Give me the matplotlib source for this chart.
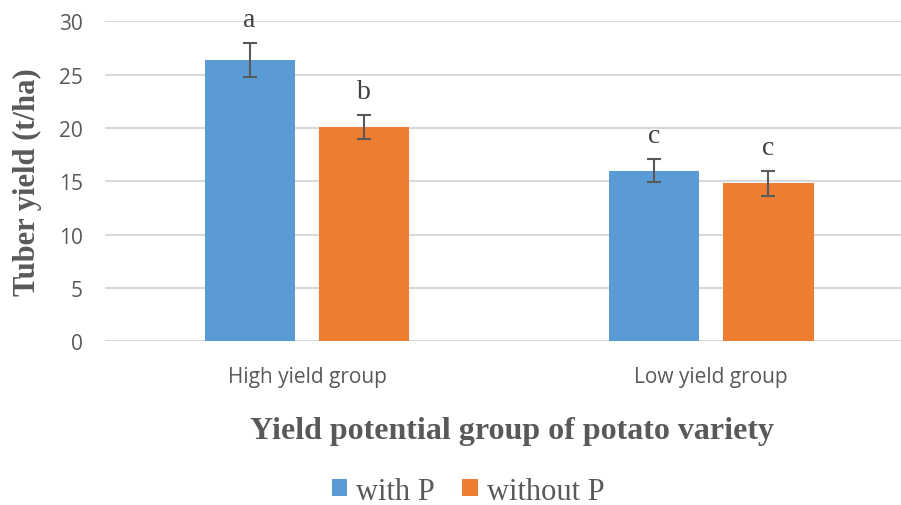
import matplotlib
matplotlib.use("Agg")
import matplotlib.pyplot as plt
import numpy as np

groups = ["High yield group", "Low yield group"]
with_p = [26.4, 16.0]
with_p_err = [1.6, 1.1]
without_p = [20.1, 14.8]
without_p_err = [1.1, 1.2]
letters_with = ["a", "c"]
letters_without = ["b", "c"]

blue = "#5B9BD5"
orange = "#ED7D31"
grey = "#595959"

fig = plt.figure(figsize=(9.01, 5.06), dpi=100)
ax = fig.add_axes([105 / 901, 1 - 342.3 / 506, 1 - 105 / 901, 320 / 506])

x = np.arange(len(groups))
w = 0.223
off = 0.142
b1 = ax.bar(x - off, with_p, w, color=blue, label="with P", zorder=2)
b2 = ax.bar(x + off, without_p, w, color=orange, label="without P", zorder=2)
ax.errorbar(x - off, with_p, yerr=with_p_err, fmt="none", ecolor=grey, elinewidth=1.5, capsize=5, capthick=1.5, zorder=3)
ax.errorbar(x + off, without_p, yerr=without_p_err, fmt="none", ecolor=grey, elinewidth=1.5, capsize=5, capthick=1.5, zorder=3)

for xi, v, e, t in zip(x - off, with_p, with_p_err, letters_with):
    ax.annotate(t, (xi, v + e), xytext=(0, 8), textcoords="offset points", ha="center", va="bottom",
                fontsize=20, family="Liberation Serif", color="#404040")
for xi, v, e, t in zip(x + off, without_p, without_p_err, letters_without):
    ax.annotate(t, (xi, v + e), xytext=(0, 8), textcoords="offset points", ha="center", va="bottom",
                fontsize=20, family="Liberation Serif", color="#404040")

ax.set_ylim(0, 30)
ax.set_xlim(-0.5, 1.47)
ax.set_yticks(range(0, 31, 5))
ax.set_xticks(x)
ax.set_xticklabels(groups)
ax.yaxis.grid(True, color="#D9D9D9", linewidth=1.5, zorder=0)
ax.set_axisbelow(True)
for s in ax.spines.values():
    s.set_visible(False)
ax.tick_params(length=0, colors=grey, labelsize=15)
ax.tick_params(axis="y", pad=16)
ax.tick_params(axis="x", pad=18)
for lbl in ax.get_xticklabels() + ax.get_yticklabels():
    lbl.set_family("Open Sans")

ax.set_ylabel("Tuber yield (t/ha)", family="Liberation Serif", fontweight="bold", fontsize=22, color=grey, labelpad=12)
fig.text(512 / 901, 1 - 432 / 506, "Yield potential group of potato variety", ha="center", va="center",
         family="Liberation Serif", fontweight="bold", fontsize=23, color=grey)

fig.legend(handles=[b1, b2], loc="center", bbox_to_anchor=(468 / 901, 1 - 492 / 506), ncol=2, frameon=False,
           prop={"family": "Liberation Serif", "size": 22}, labelcolor=grey, handlelength=0.5, handleheight=0.5,
           handletextpad=0.3, columnspacing=0.9)

fig.savefig("out.png", dpi=100)
